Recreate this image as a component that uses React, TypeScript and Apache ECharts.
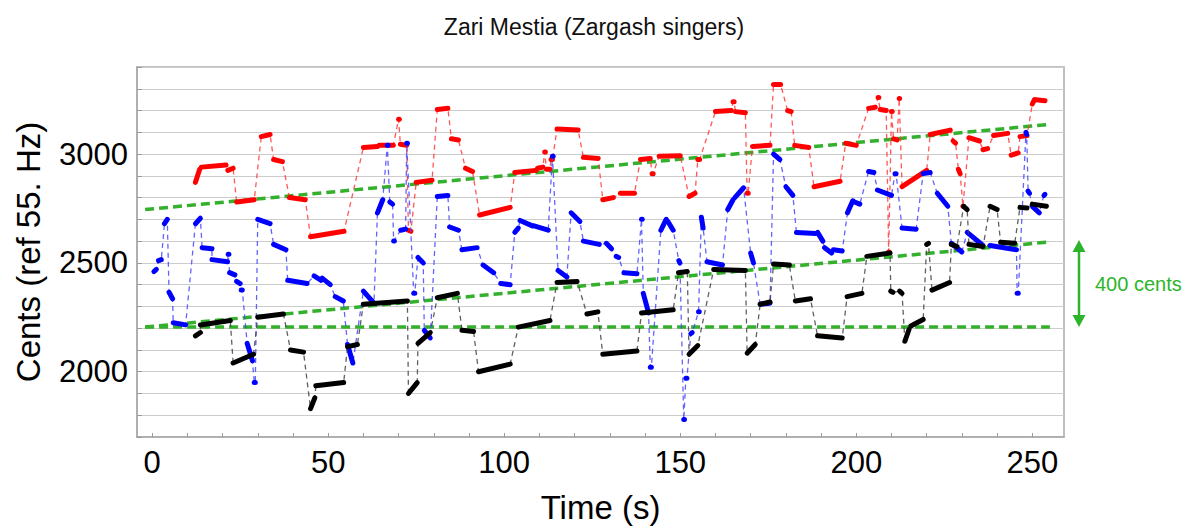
import React, { useEffect, useRef } from 'react';
import * as echarts from 'echarts';

const TITLE = 'Zari Mestia (Zargash singers)';
const X_NAME = 'Time (s)';
const Y_NAME = 'Cents (ref 55. Hz)';
const X_LABELS = [0, 50, 100, 150, 200, 250];
const X_TICKS = [0, 10, 20, 30, 40, 50, 60, 70, 80, 90, 100, 110, 120, 130, 140, 150, 160, 170, 180, 190, 200, 210, 220, 230, 240, 250];
const Y_LABELS = [2000, 2500, 3000];

// notes: [tStart, tEnd, centsStart, centsEnd]
const RED_NOTES: number[][] = [
  [12.3, 13.5, 2870, 2930], [14, 21, 2940, 2950], [21.5, 23, 2925, 2935], [24, 29, 2780, 2790],
  [31, 33.5, 3080, 3090], [34.5, 37, 2975, 2965], [39, 43.5, 2800, 2790], [45, 54.5, 2620, 2645],
  [60, 64, 3030, 3035], [64.5, 68.5, 3040, 3040], [70, 70.2, 3160, 3160], [70.5, 72.3, 3045, 3040],
  [72.8, 73.5, 2650, 2645], [75, 79.5, 2870, 2880], [81, 84, 3205, 3210], [85, 87, 3070, 3065],
  [89, 91, 2935, 2920], [93, 101.7, 2720, 2755], [103, 109, 2915, 2925], [109.5, 111, 2935, 2940],
  [111.5, 111.7, 3010, 3010], [112, 113, 2930, 2930], [113.3, 113.7, 2975, 2975], [115, 121, 3115, 3110],
  [122.5, 126.7, 2985, 2980], [128, 131, 2790, 2800], [133, 137, 2820, 2820], [138.7, 141.5, 2975, 2980],
  [142, 142.3, 2910, 2910], [144, 150, 2990, 2992], [152.5, 154.2, 2805, 2820], [155, 155.5, 2975, 2975],
  [160, 164.5, 3195, 3200], [165, 165.3, 3240, 3240], [165.7, 168.5, 3195, 3190], [169, 169.3, 2820, 2820],
  [170.5, 175.5, 3035, 3040], [176.5, 178.5, 3320, 3320], [180.5, 181.5, 3200, 3195], [182.5, 186.5, 3040, 3030],
  [188, 195.4, 2850, 2875], [197, 200, 3050, 3040], [203.5, 205.4, 3210, 3215], [206.2, 206.4, 3260, 3260],
  [206.8, 208.5, 3205, 3200], [209.2, 209.3, 2550, 2550], [210, 210.2, 3195, 3195], [210.6, 211.6, 3070, 3065],
  [212.2, 212.3, 3255, 3255], [213, 220, 2850, 2925], [221, 226.7, 3090, 3110], [227.5, 228.2, 3060, 3050],
  [229, 229.5, 2930, 2910], [230.3, 230.5, 2760, 2760], [232, 235, 3075, 3060], [236, 237.3, 3020, 3025],
  [239, 243, 3085, 3095], [244, 246, 2995, 3005], [246.5, 248.5, 3080, 3085], [250, 250.6, 3230, 3250],
  [251, 253.6, 3250, 3245],
];

const BLUE_NOTES: number[][] = [
  [0.5, 1.2, 2460, 2470], [1.8, 2.6, 2510, 2515], [3.5, 4.3, 2680, 2700], [4.8, 5.8, 2365, 2335],
  [6, 9.5, 2225, 2215], [12.3, 13.7, 2680, 2705], [14.2, 17, 2570, 2565], [17, 21.4, 2515, 2505],
  [21.6, 21.8, 2540, 2540], [22, 23.5, 2455, 2445], [24, 25, 2415, 2405], [25.3, 25.6, 2375, 2375],
  [27, 28.5, 2130, 2050], [29, 29.3, 1950, 1950], [30, 33.5, 2700, 2680], [34.5, 38, 2585, 2560],
  [38.5, 44, 2420, 2405], [46, 48, 2440, 2420], [48.3, 50.6, 2430, 2400], [52, 54.3, 2345, 2325],
  [55.5, 57, 2125, 2040], [60, 63, 2370, 2315], [64, 65.5, 2730, 2790], [66.8, 67, 3040, 3040],
  [67.5, 68.3, 2780, 2770], [68.6, 68.8, 2600, 2600], [70.6, 72, 2650, 2655], [72.3, 72.5, 3050, 3050],
  [74.3, 74.6, 2360, 2360], [75.5, 77, 2525, 2500], [77.3, 79, 2190, 2155], [81, 84, 2805, 2810],
  [84.5, 87, 2665, 2650], [88, 92.3, 2560, 2570], [94, 97, 2490, 2455], [99, 101.7, 2405, 2400],
  [103, 104, 2640, 2660], [104.5, 108, 2695, 2670], [108.5, 112.5, 2670, 2650], [113.7, 113.9, 2990, 2990],
  [115.3, 117.8, 2465, 2435], [119, 121.5, 2730, 2690], [122.5, 127, 2600, 2585], [129, 130.5, 2590, 2565],
  [131.8, 132.5, 2530, 2525], [134, 137.7, 2455, 2450], [139, 139.2, 2700, 2700], [139.5, 141, 2360, 2270],
  [141.5, 141.8, 2020, 2020], [144.5, 146, 2650, 2700], [146.5, 148, 2690, 2650], [149.6, 149.9, 2510, 2500],
  [151, 151.2, 1780, 1780], [151.6, 151.9, 1970, 1970], [153, 153.4, 2175, 2180], [155.2, 155.4, 2275, 2275],
  [156, 156.5, 2710, 2660], [157.6, 162, 2505, 2490], [163.5, 165, 2745, 2790], [165.5, 168, 2800, 2845],
  [170, 170.8, 2545, 2500], [172.7, 175.5, 2310, 2315], [176.5, 178.3, 3000, 2975], [180, 182, 2850, 2810],
  [183, 188.5, 2640, 2635], [189, 190.5, 2640, 2600], [191, 193, 2570, 2545], [193.5, 196, 2560, 2555],
  [197.5, 199, 2730, 2785], [199.5, 201, 2780, 2770], [203.5, 205, 2920, 2915], [206, 210, 2835, 2810],
  [211, 211.3, 2910, 2910], [213, 217, 2660, 2655], [219, 221, 2910, 2915], [223, 226, 2820, 2760],
  [227, 230, 2590, 2550], [231.5, 236, 2640, 2580], [238, 245.5, 2580, 2560], [245.7, 246, 2360, 2360],
  [248.2, 248.4, 3100, 3090], [248.8, 249.2, 2830, 2820], [250, 252, 2760, 2730], [253.3, 253.6, 2810, 2815],
];

const BLACK_NOTES: number[][] = [
  [12.3, 13.7, 2165, 2180], [13.7, 22.2, 2215, 2235], [23, 28.8, 2040, 2080], [30, 37.3, 2250, 2265],
  [39.3, 43, 2100, 2090], [45, 46.2, 1830, 1880], [46.5, 54.4, 1935, 1950], [55.5, 58.3, 2115, 2125],
  [60, 72.5, 2310, 2325], [72.8, 75.3, 1900, 1950], [75.5, 79, 2130, 2180], [81, 86.7, 2340, 2360],
  [88, 91.3, 2190, 2185], [92.7, 101.7, 2000, 2035], [104, 113, 2205, 2235], [115, 120.7, 2410, 2415],
  [123.5, 126.6, 2265, 2275], [128, 137.7, 2080, 2095], [139, 148, 2270, 2285], [149.5, 152, 2455, 2460],
  [152.5, 155, 2080, 2120], [159.5, 168.5, 2470, 2465], [169, 171.3, 2085, 2125], [172.7, 175.5, 2310, 2320],
  [176.5, 181, 2495, 2490], [182.7, 187, 2325, 2335], [189, 196, 2165, 2155], [197.4, 201.6, 2345, 2360],
  [203, 209.6, 2530, 2545], [209.8, 210.4, 2370, 2365], [212.3, 213, 2370, 2360], [213.8, 215, 2140, 2195],
  [215.5, 219, 2210, 2240], [220, 220.5, 2585, 2590], [221.5, 226.5, 2375, 2410], [227, 228.6, 2585, 2575],
  [230.5, 231.5, 2760, 2745], [232, 236, 2585, 2575], [238, 240, 2760, 2745], [241, 245, 2595, 2590],
  [246.5, 248.5, 2755, 2752], [250, 254, 2770, 2760],
];

const GREEN_TOP = [[-2, 2745], [254, 3135]];
const GREEN_RISE = [[-2, 2205], [254, 2595]];
const GREEN_FLAT = [[-2, 2205], [255, 2205]];
const INTERVAL_SPAN = [2205, 2605];
const INTERVAL_LABEL = '400 cents';

const FONT = "'Liberation Sans', Arial, Helvetica, sans-serif";
const GREEN = '#33b02c';
const ARROW_GREEN = '#2cb52a';

const VOICES = [
  { name: 'red', notes: RED_NOTES, color: '#ff0000', dash: '#ff3b3b' },
  { name: 'blue', notes: BLUE_NOTES, color: '#0000ff', dash: '#4848ff' },
  { name: 'black', notes: BLACK_NOTES, color: '#000000', dash: '#444444' },
];

function buildOption(): any {
  const series: any[] = [];
  [GREEN_TOP, GREEN_RISE, GREEN_FLAT].forEach((d, i) => {
    series.push({
      type: 'line', name: 'green' + i, data: d, symbol: 'none', z: 1,
      lineStyle: { color: GREEN, width: 3.5, type: [9, 5] },
    });
  });
  VOICES.forEach((v, vi) => {
    const track: number[][] = [];
    v.notes.forEach((n) => { track.push([n[0], n[2]]); track.push([n[1], n[3]]); });
    series.push({
      type: 'line', name: v.name + '-track', data: track, symbol: 'none', z: 2 + vi * 2,
      lineStyle: { color: v.dash, width: 1.3, type: [5, 4], opacity: 0.85 },
    });
    series.push({
      type: 'custom', name: v.name + '-notes', data: v.notes, z: 3 + vi * 2,
      encode: { x: [0, 1], y: [2, 3] },
      renderItem: (params: any, api: any) => {
        const p0 = api.coord([api.value(0), api.value(2)]);
        const p1 = api.coord([api.value(1), api.value(3)]);
        return {
          type: 'line',
          shape: { x1: p0[0], y1: p0[1], x2: p1[0], y2: p1[1] },
          style: { stroke: v.color, lineWidth: 5, lineCap: 'round' },
        };
      },
    });
  });

  return {
    animation: false,
    backgroundColor: '#ffffff',
    title: {
      text: TITLE, left: 'center', top: 10,
      textStyle: { fontFamily: FONT, fontSize: 23, fontWeight: 'normal', color: '#111' },
    },
    grid: { left: 137, right: 124, top: 67, bottom: 92, show: true, borderColor: '#aaaaaa', borderWidth: 1.5, containLabel: false },
    xAxis: {
      type: 'value', min: -4.3, max: 259,
      name: X_NAME, nameLocation: 'middle', nameGap: 54,
      nameTextStyle: { fontFamily: FONT, fontSize: 33, color: '#000' },
      axisLine: { show: true, onZero: false, lineStyle: { color: '#aaaaaa', width: 1.5 } },
      axisTick: { show: true, inside: true, length: 4, customValues: X_TICKS, lineStyle: { color: '#999' } },
      axisLabel: { customValues: X_LABELS, formatter: (v: number) => String(v), fontFamily: FONT, fontSize: 31, color: '#000', margin: 10 },
      splitLine: { show: false },
    },
    yAxis: {
      type: 'value', min: 1700, max: 3400, interval: 100,
      name: Y_NAME, nameLocation: 'middle', nameGap: 92,
      nameTextStyle: { fontFamily: FONT, fontSize: 33, color: '#000' },
      axisLine: { show: true, onZero: false, lineStyle: { color: '#aaaaaa', width: 1.5 } },
      axisTick: { show: true, inside: true, length: 5, lineStyle: { color: '#999' } },
      axisLabel: { customValues: Y_LABELS, formatter: (v: number) => String(v), fontFamily: FONT, fontSize: 31, color: '#000', margin: 9 },
      splitLine: { show: true, lineStyle: { color: '#cccccc', width: 1.2 } },
    },
    series,
  };
}

export default function App() {
  const ref = useRef<HTMLDivElement>(null);
  useEffect(() => {
    if (!ref.current) return;
    const chart = echarts.init(ref.current, undefined, { renderer: 'svg' });
    chart.setOption(buildOption());
    const yTop = chart.convertToPixel({ yAxisIndex: 0 }, INTERVAL_SPAN[1]) as number;
    const yBot = chart.convertToPixel({ yAxisIndex: 0 }, INTERVAL_SPAN[0]) as number;
    const xRight = chart.convertToPixel({ xAxisIndex: 0 }, 259) as number;
    const ax = xRight + 15;
    const head = 12;
    const hw = 6.5;
    chart.setOption({
      graphic: [
        { type: 'line', shape: { x1: ax, y1: yTop + head - 1, x2: ax, y2: yBot - head + 1 }, style: { stroke: ARROW_GREEN, lineWidth: 2.5 } },
        { type: 'polygon', shape: { points: [[ax, yTop], [ax - hw, yTop + head], [ax + hw, yTop + head]] }, style: { fill: ARROW_GREEN } },
        { type: 'polygon', shape: { points: [[ax, yBot], [ax - hw, yBot - head], [ax + hw, yBot - head]] }, style: { fill: ARROW_GREEN } },
        {
          type: 'text', x: ax + 16, y: (yTop + yBot) / 2,
          style: { text: INTERVAL_LABEL, fill: ARROW_GREEN, fontFamily: FONT, fontSize: 20, verticalAlign: 'middle', align: 'left' },
        },
      ],
    });
    return () => chart.dispose();
  }, []);
  return <div ref={ref} style={{ position: 'absolute', left: 0, top: 0, width: 1188, height: 529 }} />;
}
